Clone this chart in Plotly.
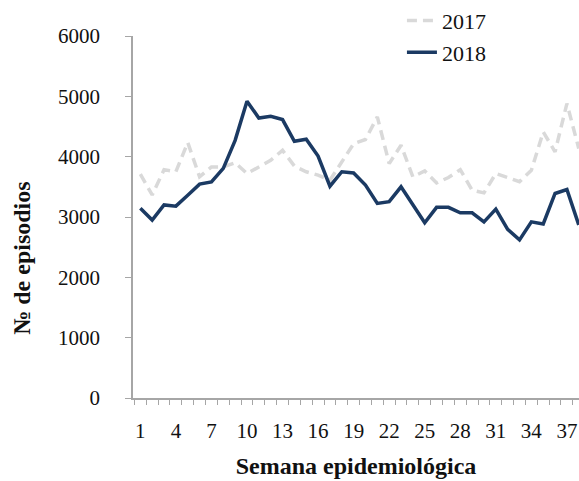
import plotly.graph_objects as go

weeks = list(range(1, 39))
tick_weeks = list(range(1, 38, 3))
y_ticks = [0, 1000, 2000, 3000, 4000, 5000, 6000]

values_2017 = [3710, 3365, 3785, 3750, 4235, 3665, 3830, 3830, 3900, 3720,
               3830, 3940, 4105, 3845, 3750, 3695, 3610, 3915, 4215, 4285,
               4660, 3885, 4190, 3665, 3765, 3565, 3655, 3785, 3445, 3400,
               3720, 3655, 3585, 3775, 4410, 4080, 4880, 4135]
values_2018 = [3145, 2950, 3200, 3180, 3360, 3545, 3580, 3805, 4270, 4920,
               4640, 4670, 4615, 4255, 4290, 4010, 3510, 3750, 3730, 3530,
               3225, 3255, 3500, 3200, 2905, 3160, 3160, 3070, 3070, 2920,
               3130, 2795, 2620, 2920, 2885, 3390, 3455, 2870]

FONT = "Liberation Serif"
AXIS_COLOR = "#a6a6a6"

fig = go.Figure()
fig.add_trace(go.Scatter(
    x=weeks, y=values_2017, mode="lines", name="2017",
    line=dict(color="#d9d9d9", width=3.5, dash="10px,6px"),
))
fig.add_trace(go.Scatter(
    x=weeks, y=values_2018, mode="lines", name="2018",
    line=dict(color="#1b3a63", width=3.5),
))

fig.update_layout(
    width=579, height=481,
    margin=dict(l=133, r=0, t=36, b=83, autoexpand=False),
    paper_bgcolor="white", plot_bgcolor="white",
    font=dict(family=FONT, size=21, color="#111111"),
    showlegend=True,
    legend=dict(
        x=0.603, y=1.1, xanchor="left", yanchor="top",
        font=dict(family=FONT, size=22),
        bgcolor="rgba(0,0,0,0)",
        traceorder="normal",
    ),
    xaxis=dict(
        range=[0.38, 38.02],
        tickvals=tick_weeks,
        ticktext=[str(w) for w in tick_weeks],
        ticks="", showgrid=False, zeroline=False,
        showline=True, linecolor=AXIS_COLOR, linewidth=1.5,
        ticklabelstandoff=13,
        tickfont=dict(family=FONT, size=21),
        minor=dict(ticks="outside", tick0=0.5, dtick=1, ticklen=5,
                   tickcolor=AXIS_COLOR, tickwidth=1, showgrid=False),
        title=dict(text="<b>Semana epidemiológica</b>",
                   font=dict(family=FONT, size=24), standoff=15),
    ),
    yaxis=dict(
        range=[0, 6000],
        tickvals=y_ticks,
        ticks="outside", ticklen=6, tickcolor=AXIS_COLOR, tickwidth=1,
        showgrid=False, zeroline=False,
        showline=True, linecolor=AXIS_COLOR, linewidth=1.5,
        ticklabelstandoff=21,
        tickfont=dict(family=FONT, size=21),
    ),
    annotations=[dict(
        text="<b>№ de episodios</b>", textangle=-90,
        xref="paper", yref="paper", x=-0.249, y=0.387,
        xanchor="center", yanchor="middle", showarrow=False,
        font=dict(family=FONT, size=24, color="#111111"),
    )],
)

fig.write_html(
    "out.html",
    config={"displayModeBar": False},
    post_script="document.body.style.margin='0';document.body.style.overflow='hidden';",
)
